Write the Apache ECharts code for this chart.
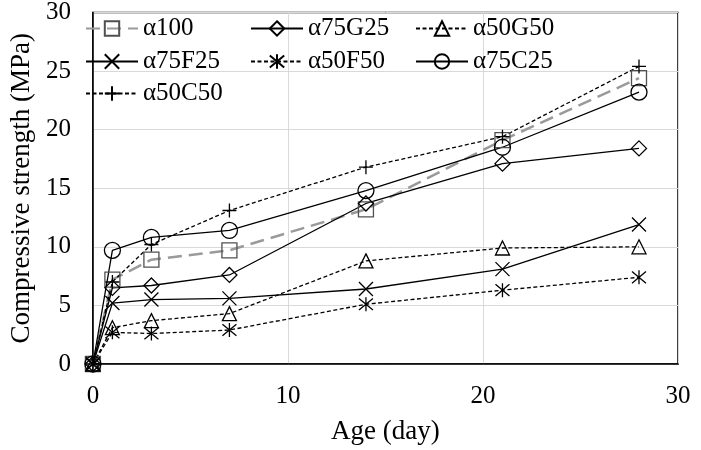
<!DOCTYPE html>
<html>
<head>
<meta charset="utf-8">
<script src="https://cdn.jsdelivr.net/npm/echarts@6/dist/echarts.min.js"></script>
<style>html,body{margin:0;padding:0;background:#fff}#c{width:701px;height:450px}</style>
</head>
<body>
<div id="c"></div>
<script>
const ages = [0, 1, 3, 7, 14, 21, 28];
const seriesNames = ['α100', 'α75G25', 'α50G50', 'α75F25', 'α50F50', 'α75C25', 'α50C50'];
const a100   = [0, 7.2, 8.9, 9.7, 13.2, 19.1, 24.4];
const a75G25 = [0, 6.5, 6.7, 7.6, 13.7, 17.1, 18.4];
const a50G50 = [0, 3.1, 3.7, 4.3, 8.8, 9.9, 10.0];
const a75F25 = [0, 5.2, 5.5, 5.6, 6.4, 8.1, 11.9];
const a50F50 = [0, 2.7, 2.6, 2.9, 5.1, 6.3, 7.4];
const a75C25 = [0, 9.7, 10.8, 11.4, 14.8, 18.5, 23.2];
const a50C50 = [0, 7.0, 10.2, 13.1, 16.8, 19.4, 25.4];
const xTicks = [0, 10, 20, 30];
const yTicks = [0, 5, 10, 15, 20, 25, 30];

const FONT = '"Liberation Serif", "Times New Roman", serif';
const SYM = {
  rect: 'path://M0 0H10V10H0Z',
  diamond: 'path://M5 0L10 5L5 10L0 5Z',
  triangle: 'path://M5 0L10 10L0 10Z',
  x: 'path://M0 0L10 10M10 0L0 10',
  star: 'path://M0 0L10 10M10 0L0 10M5 -1L5 11',
  circle: 'path://M10 5A5 5 0 1 1 0 5A5 5 0 1 1 10 5Z',
  plus: 'path://M5 0L5 10M0 5L10 5'
};
function pairs(vals) { return ages.map((a, i) => [a, vals[i]]); }
function mk(name, vals, sym, size, lineColor, lineType, lineWidth, symColor) {
  return {
    name: name, type: 'line', data: pairs(vals),
    symbol: sym, symbolSize: size, showSymbol: true,
    lineStyle: { color: lineColor, type: lineType, width: lineWidth },
    itemStyle: { color: 'transparent', borderColor: symColor, borderWidth: 1.3 },
    emphasis: { disabled: true }, animation: false
  };
}
const dash = [4, 2.5];
const series = [
  mk(seriesNames[0], a100, SYM.rect, 15, '#9a9a9a', [14, 7], 2.5, '#505050'),
  mk(seriesNames[1], a75G25, SYM.diamond, 15, '#000', 'solid', 1.3, '#000'),
  mk(seriesNames[2], a50G50, SYM.triangle, 14, '#000', dash, 1.3, '#000'),
  mk(seriesNames[3], a75F25, SYM.x, 14, '#000', 'solid', 1.3, '#000'),
  mk(seriesNames[4], a50F50, SYM.star, 14, '#000', dash, 1.3, '#000'),
  mk(seriesNames[5], a75C25, SYM.circle, 16, '#000', 'solid', 1.3, '#000'),
  mk(seriesNames[6], a50C50, SYM.plus, 14, '#000', dash, 1.3, '#000')
];
const legendPos = [[85, 29], [250, 29], [415, 29], [85, 62], [250, 62], [415, 62], [85, 94]];
const legendOrder = [0, 1, 2, 3, 4, 5, 6];
const legends = legendOrder.map((si, k) => ({
  data: [seriesNames[si]], left: legendPos[k][0], top: legendPos[k][1] - 13,
  orient: 'horizontal', padding: 0, itemWidth: 52, itemHeight: 18,
  selectedMode: false,
  textStyle: { fontFamily: FONT, fontSize: 25, color: '#000', padding: [0, 0, 0, 0] }
}));

const chart = echarts.init(document.getElementById('c'), null, { renderer: 'canvas' });
chart.setOption({
  backgroundColor: '#fff',
  animation: false,
  legend: legends,
  grid: { left: 81, right: 23, top: 8, bottom: 80, show: true, borderColor: '#000', borderWidth: 1.5, backgroundColor: 'transparent' },
  xAxis: {
    type: 'value', min: xTicks[0], max: xTicks[xTicks.length - 1], interval: 10,
    name: 'Age (day)', nameLocation: 'middle', nameGap: 54,
    nameTextStyle: { fontFamily: FONT, fontSize: 27, color: '#000' },
    axisLine: { show: true, lineStyle: { color: '#000', width: 1.5 } },
    axisTick: { show: false },
    axisLabel: { fontFamily: FONT, fontSize: 25, color: '#000', margin: 20 },
    splitLine: { show: true, lineStyle: { color: '#d9d9d9', width: 1 } }
  },
  yAxis: {
    type: 'value', min: yTicks[0], max: yTicks[yTicks.length - 1], interval: 5,
    name: 'Compressive strength (MPa)', nameLocation: 'middle', nameGap: 54,
    nameTextStyle: { fontFamily: FONT, fontSize: 27, color: '#000' },
    axisLine: { show: true, lineStyle: { color: '#000', width: 1.5 } },
    axisTick: { show: false },
    axisLabel: { fontFamily: FONT, fontSize: 25, color: '#000', margin: 22 },
    splitLine: { show: true, lineStyle: { color: '#d9d9d9', width: 1 } }
  },
  series: series
});
</script>
</body>
</html>
